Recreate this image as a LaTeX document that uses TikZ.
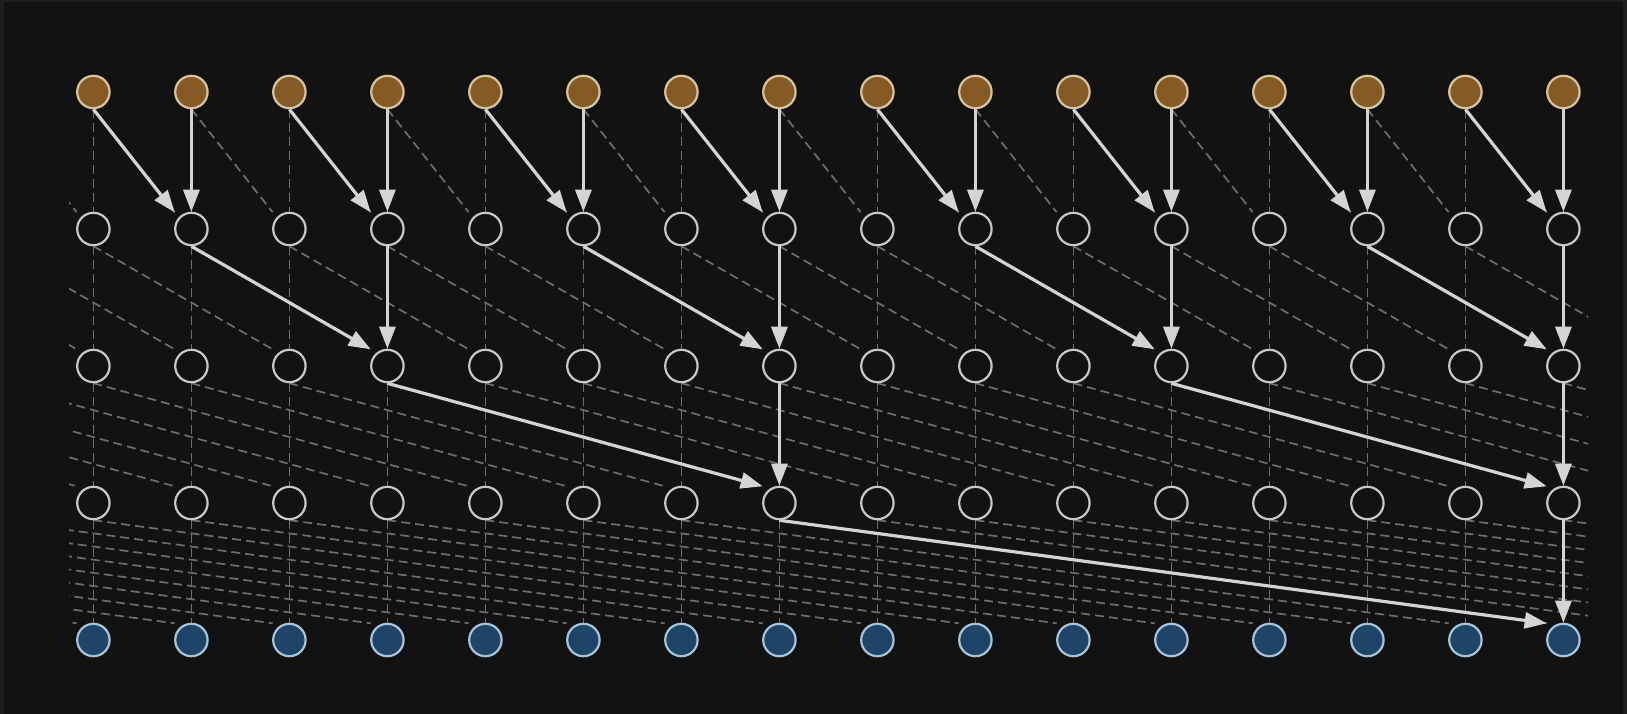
\documentclass[tikz,border=0pt]{standalone}
\usetikzlibrary{arrows.meta,calc}
\pgfdeclarelayer{back}
\pgfdeclarelayer{edges}
\pgfsetlayers{back,edges,main}
\definecolor{bgc}{HTML}{121212}
\definecolor{framec}{HTML}{1E1E1E}
\definecolor{brownfill}{HTML}{855A24}
\definecolor{browndraw}{HTML}{D8C3A0}
\definecolor{bluefill}{HTML}{1E4468}
\definecolor{bluedraw}{HTML}{A9C3DA}
\definecolor{ringc}{HTML}{C8C8C8}
\definecolor{solidc}{HTML}{D4D4D4}
\definecolor{dashc}{HTML}{6E6E6E}
\begin{document}
\begin{tikzpicture}[x=1pt,y=-1pt,
  vtx/.style={circle,minimum size=32.4pt,inner sep=0pt,line width=2.2pt},
  src/.style={vtx,fill=brownfill,draw=browndraw},
  mid/.style={vtx,fill=bgc,draw=ringc},
  dst/.style={vtx,fill=bluefill,draw=bluedraw},
  flow/.style={draw=solidc,line width=3.2pt,-{Triangle[length=22pt,width=16pt]}},
  gridline/.style={draw=dashc,line width=1.7pt,dash pattern=on 9pt off 5pt}]
\begin{pgfonlayer}{back}
\fill[framec] (0,0) rectangle (1627,714);
\fill[bgc] (4,2) rectangle (1623,714);
\end{pgfonlayer}
\useasboundingbox (0,0) rectangle (1627,714);
% nodes
\foreach \j in {0,...,15}{
  \node[src] (n-0-\j) at ({93.4+98*\j},92) {};
  \node[mid] (n-1-\j) at ({93.4+98*\j},229) {};
  \node[mid] (n-2-\j) at ({93.4+98*\j},366) {};
  \node[mid] (n-3-\j) at ({93.4+98*\j},503) {};
  \node[dst] (n-4-\j) at ({93.4+98*\j},640) {};
}
% connection points (also for positions beyond the visible columns)
\foreach \r in {0,...,4}{
  \foreach \j in {-8,...,23}{
    \coordinate (s-\r-\j) at ({93.4+98*\j},{92+137*\r+17.2});
    \coordinate (t-\r-\j) at ({93.4+98*\j-16.7},{92+137*\r-16.7});
  }
}
\begin{pgfonlayer}{edges}
% dashed vertical lines
\foreach \l in {0,...,3}{
  \pgfmathtruncatemacro\lnext{\l+1}
  \foreach \j in {0,...,15}{
    \draw[gridline] (n-\l-\j.south) -- (n-\lnext-\j.north);
  }
}
% dashed diagonal lines
\begin{scope}
\clip (69,0) rectangle (1588,714);
\foreach \l/\jend in {0/14,1/14,2/15,3/15}{
  \pgfmathtruncatemacro\lnext{\l+1}
  \pgfmathtruncatemacro\sh{2^\l}
  \pgfmathtruncatemacro\jstart{-\sh}
  \foreach \j in {\jstart,...,\jend}{
    \pgfmathtruncatemacro\k{\j+\sh}
    \draw[gridline] (s-\l-\j) -- (t-\lnext-\k);
  }
}
\end{scope}
% solid arrows
\foreach \l in {0,...,3}{
  \pgfmathtruncatemacro\lnext{\l+1}
  \pgfmathtruncatemacro\sh{2^\l}
  \foreach \j in {0,...,15}{
    \pgfmathtruncatemacro\m{mod(\j+1,2*\sh)}
    \ifnum\m=0
      \pgfmathtruncatemacro\i{\j-\sh}
      \draw[flow] (n-\l-\i.south) -- (t-\lnext-\j);
      \draw[flow] (n-\l-\j.south) -- (n-\lnext-\j.north);
    \fi
  }
}
\end{pgfonlayer}
\end{tikzpicture}
\end{document}
